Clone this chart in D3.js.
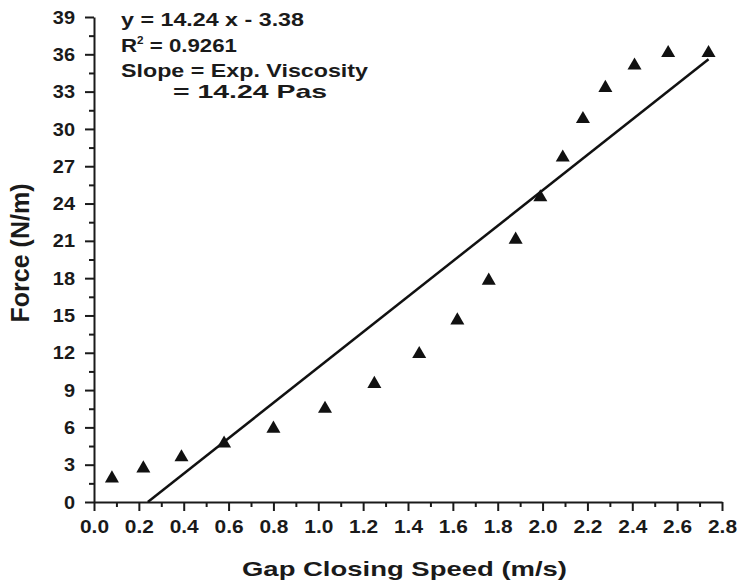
<!DOCTYPE html>
<html>
<head>
<meta charset="utf-8">
<script src="https://cdn.jsdelivr.net/npm/d3@7"></script>
<style>
  body { margin: 0; background: #fff; }
  text { font-family: Arial, "Liberation Sans", sans-serif; fill: #1a1a1a; }
  .axis path, .axis line { stroke: #1a1a1a; stroke-width: 2; }
  .axis text { font-size: 19px; font-weight: bold; }
</style>
</head>
<body>
<script>
// measured points (gap closing speed in m/s, force in N/m)
const speed = [0.08, 0.22, 0.39, 0.58, 0.80, 1.03, 1.25, 1.45, 1.62, 1.76, 1.88, 1.99, 2.09, 2.18, 2.28, 2.41, 2.56, 2.74];
const force = [1.9, 2.7, 3.6, 4.7, 5.9, 7.5, 9.5, 11.9, 14.6, 17.8, 21.1, 24.5, 27.7, 30.8, 33.3, 35.1, 36.1, 36.1];

// ends of the linear fit as drawn
const fitX = [0.24, 2.74];
const fitY = [0, 35.6];

const xTicks = [0, 0.2, 0.4, 0.6, 0.8, 1.0, 1.2, 1.4, 1.6, 1.8, 2.0, 2.2, 2.4, 2.6, 2.8];
const yTicks = [0, 3, 6, 9, 12, 15, 18, 21, 24, 27, 30, 33, 36, 39];

const notes = ["y = 14.24 x - 3.38", "R2 = 0.9261", "Slope = Exp. Viscosity", "= 14.24 Pas"];

const width = 737, height = 587;
const margin = { top: 17, bottom: 85, left: 94, right: 15 };

let svg = d3.select("body").append("svg")
    .attr("width", width)
    .attr("height", height);

let x = d3.scaleLinear()
    .domain([0, 2.8])
    .range([margin.left, width - margin.right]);

let y = d3.scaleLinear()
    .domain([0, 39])
    .range([height - margin.bottom, margin.top]);

// the original is a bit wider than tall, so stretch glyphs sideways
function stretch(sel, k) {
  sel.each(function() {
    let w = this.getComputedTextLength();
    this.setAttribute("textLength", w * k);
    this.setAttribute("lengthAdjust", "spacingAndGlyphs");
  });
}

//minor ticks
let minorX = d3.range(0.1, 2.8, 0.2);
let minorY = d3.range(1.5, 39, 3);

svg.append("g")
    .attr("class", "axis")
    .attr("transform", `translate(0,${y(0)})`)
    .call(d3.axisBottom(x).tickValues(minorX).tickSize(5).tickFormat(""))
    .call(g => g.select(".domain").remove());

svg.append("g")
    .attr("class", "axis")
    .attr("transform", `translate(${x(0)},0)`)
    .call(d3.axisLeft(y).tickValues(minorY).tickSize(5).tickFormat(""))
    .call(g => g.select(".domain").remove());

//major ticks
let xAxis = svg.append("g")
    .attr("class", "axis")
    .attr("transform", `translate(0,${y(0)})`)
    .call(d3.axisBottom(x).tickValues(xTicks).tickSize(9).tickPadding(9).tickSizeOuter(0).tickFormat(d3.format(".1f")));

let yAxis = svg.append("g")
    .attr("class", "axis")
    .attr("transform", `translate(${x(0)},0)`)
    .call(d3.axisLeft(y).tickValues(yTicks).tickSize(9).tickPadding(10).tickSizeOuter(0));

stretch(xAxis.selectAll("text"), 1.1);
stretch(yAxis.selectAll("text"), 1.05);

//fit line
let points = speed.map((s, i) => ({ x: s, y: force[i] }));
let fit = fitX.map((v, i) => ({ x: v, y: fitY[i] }));

let line = d3.line()
    .x(d => x(d.x))
    .y(d => y(d.y));

svg.append("path")
    .datum(fit)
    .attr("d", line)
    .attr("fill", "none")
    .attr("stroke", "#111")
    .attr("stroke-width", 2.5);

//data points
svg.selectAll(".pt")
    .data(points)
    .enter().append("path")
    .attr("class", "pt")
    .attr("transform", d => `translate(${x(d.x)},${y(d.y)})`)
    .attr("d", d3.symbol(d3.symbolTriangle, 85))
    .attr("fill", "#111");

//annotation
const noteX = [121, 121, 121, 173];
const noteY = [26, 52, 77, 98];
const noteW = [183, 116, 247, 154];

notes.forEach((t, i) => {
  let txt = svg.append("text")
      .attr("x", noteX[i])
      .attr("y", noteY[i])
      .attr("font-size", 19)
      .attr("font-weight", "bold");
  if (i == 1) {
    txt.append("tspan").text("R");
    txt.append("tspan").attr("font-size", 10).attr("dy", -8).text("2");
    txt.append("tspan").attr("dy", 8).text(" = 0.9261");
  } else {
    txt.text(t);
  }
  txt.attr("textLength", noteW[i]).attr("lengthAdjust", "spacingAndGlyphs");
});

//axis titles
svg.append("text")
    .attr("x", 242)
    .attr("y", 576)
    .attr("font-size", 21)
    .attr("font-weight", "bold")
    .attr("textLength", 325)
    .attr("lengthAdjust", "spacingAndGlyphs")
    .text("Gap Closing Speed (m/s)");

svg.append("text")
    .attr("transform", "translate(29,253) rotate(-90)")
    .attr("text-anchor", "middle")
    .attr("font-size", 25)
    .attr("font-weight", "bold")
    .text("Force (N/m)");
</script>
</body>
</html>
